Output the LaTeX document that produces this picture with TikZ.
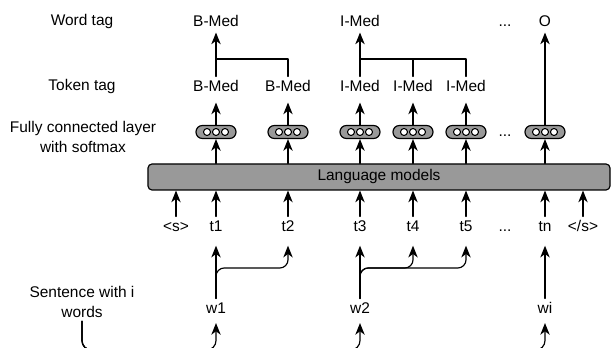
\documentclass[tikz,border=0pt]{standalone}
\usepackage{fontspec}
\setmainfont{Liberation Sans}
\usepackage{xcolor}
\usetikzlibrary{arrows.meta}
\definecolor{lmgray}{RGB}{153,153,153}

\begin{document}
\begin{tikzpicture}[x=0.3mm,y=-0.3mm,line cap=round,line join=round,line width=1pt,
    >={Stealth[length=10pt,width=8pt,inset=3pt]},
    every node/.style={font=\fontsize{13.2pt}{17pt}\selectfont},
    tag/.style={text height=9.5pt,text depth=2.5pt,inner sep=2.5pt},
    side/.style={align=center,inner sep=2.5pt},
    fcnode/.style={draw,fill=lmgray,rounded corners=1.9mm,minimum width=12mm,minimum height=3.9mm,inner sep=0pt},
    lmbox/.style={draw,fill=lmgray,rounded corners=1.2mm,minimum width=138.6mm,minimum height=7.8mm}]
        \clip (0,0) rectangle (611,348);
        % left column
        \node[side] (wordlbl) at (82,22) {Word tag};
        \node[side] (toklbl) at (82,87) {Token tag};
        \node[side] (fclbl) at (83,137) {Fully connected layer\\with softmax};
        \node[side] (sentlbl) at (82,302) {Sentence with i\\words};
        % word tags
        \node[tag] (wt1) at (216,22) {B-Med};
        \node[tag] (wt2) at (360,22) {I-Med};
        \node[tag] (wdots) at (505,22) {...};
        \node[tag] (wt3) at (545,22) {O};
        % token tags
        \foreach \n/\x/\t in {1/216/B-Med,2/288/B-Med,3/360/I-Med,4/413/I-Med,5/466/I-Med}
        \node[tag] (tt\n) at (\x,87) {\t};
        % fully connected layers
        \foreach \n/\x in {1/216,2/288,3/360,4/413,5/466,6/545}
        \node[fcnode] (fc\n) at (\x,132) {};
        \foreach \n in {1,...,6}
        \foreach \d in {-9,0,9}
        \draw[fill=white,line width=0.9pt] ([xshift=\d*0.3mm]fc\n.center) circle (1.05mm);
        \node[tag] (fdots) at (505,132) {...};
        % language model
        \node[lmbox] (lm) at (379,177) {Language models};
        % tokens
        \node[tag] (ts) at (176,227) {<s>};
        \node[tag] (t1) at (216,227) {t1};
        \node[tag] (t2) at (288,227) {t2};
        \node[tag] (t3) at (360,227) {t3};
        \node[tag] (t4) at (413,227) {t4};
        \node[tag] (t5) at (466,227) {t5};
        \node[tag] (tdots) at (505,227) {...};
        \node[tag] (tn) at (545,227) {tn};
        \node[tag] (te) at (583,227) {</s>};
        % words
        \node[tag] (w1) at (216,309) {w1};
        \node[tag] (w2) at (360,309) {w2};
        \node[tag] (wi) at (545,309) {wi};
        \coordinate (j1) at (216,59);
        \coordinate (j2) at (360,59);
        \coordinate (split) at (0,268);
        \coordinate (base) at (0,350);

        % tags to word tags
        \draw[->] (tt1.north) -- (wt1.south);
        \draw (tt2.north) |- (j1);
        \draw[->] (tt3.north) -- (wt2.south);
        \draw (tt4.north) |- (j2);
        \draw (tt5.north) |- (j2);
        \draw[->] (fc6.north) -- (wt3.south);
        % layers
        \foreach \n in {1,...,5}
        \draw[->,shorten >=4.3pt] (fc\n.north) -- (tt\n.south);
        \foreach \n in {1,...,6}
        \draw[->] (fc\n |- lm.north) -- (fc\n.south);
        \foreach \n in {ts,t1,t2,t3,t4,t5,tn,te}
        \draw[->] (\n.north) -- (\n.north |- lm.south);
        % words to tokens
        \draw[->,shorten >=7pt] (w1.north) -- (t1.south);
        \draw[->,shorten >=7pt] (w2.north) -- (t3.south);
        \draw[->,shorten >=7pt] (wi.north) -- (tn.south);
        \draw[->,shorten >=7pt,rounded corners=7pt] (w1.north) |- (t2.south |- split) -- (t2.south);
        \draw[->,shorten >=7pt,rounded corners=7pt] (w2.north) |- (t4.south |- split) -- (t4.south);
        \draw[->,shorten >=7pt,rounded corners=7pt] (w2.north) |- (t5.south |- split) -- (t5.south);
        % sentence to words
        \foreach \n in {w1,w2,wi}
        \draw[->,shorten >=3pt,rounded corners=8pt] (sentlbl.south) |- (\n.south |- base) -- (\n.south);
\end{tikzpicture}
\end{document}
